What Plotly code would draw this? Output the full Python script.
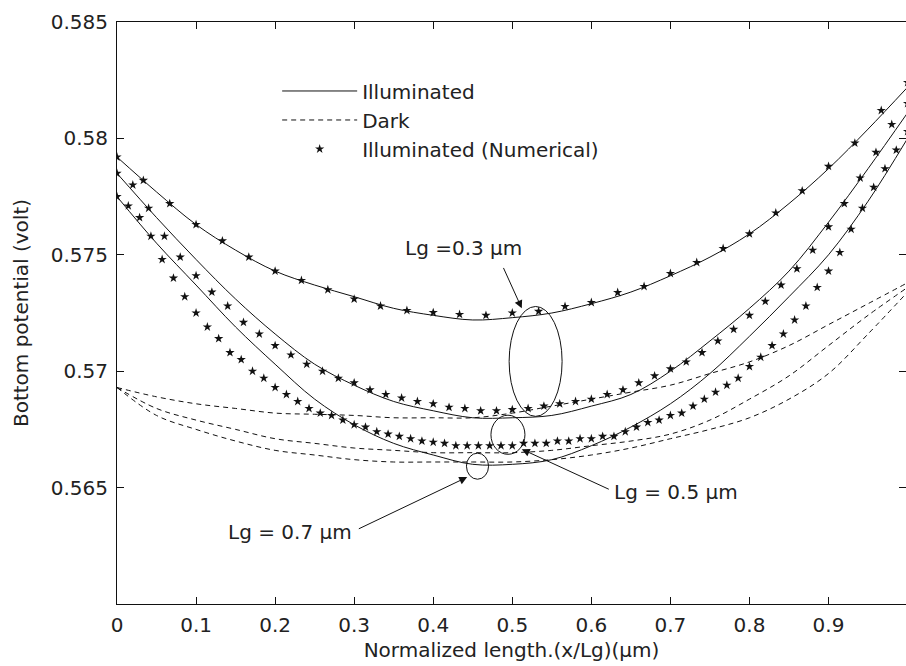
import plotly.graph_objects as go

# ---- sample positions along the gate (normalised x/Lg) ----
X_CURVE = [0.00, 0.05, 0.10, 0.15, 0.20, 0.25, 0.30, 0.35, 0.40, 0.45, 0.50,
           0.55, 0.60, 0.65, 0.70, 0.75, 0.80, 0.85, 0.90, 0.95, 1.00]

# analytical model, illuminated
ILLUM_03 = [0.5792, 0.5777, 0.5763, 0.5752, 0.5743, 0.5737, 0.5732, 0.5727, 0.5724, 0.5722, 0.5723,
            0.5725, 0.5729, 0.5734, 0.5741, 0.5749, 0.5759, 0.5772, 0.5787, 0.5804, 0.5822]
ILLUM_05 = [0.5785, 0.5766, 0.5748, 0.5731, 0.5716, 0.5703, 0.5694, 0.5687, 0.5683, 0.5680, 0.5680,
            0.5681, 0.5685, 0.5690, 0.5700, 0.5713, 0.5727, 0.5743, 0.5764, 0.5787, 0.5811]
ILLUM_07 = [0.5775, 0.5755, 0.5737, 0.5719, 0.5703, 0.5688, 0.5677, 0.5669, 0.5664, 0.5660, 0.5660,
            0.5662, 0.5668, 0.5676, 0.5686, 0.5699, 0.5715, 0.5732, 0.5750, 0.5773, 0.5800]

# analytical model, dark
DARK_03 = [0.5693, 0.5689, 0.5686, 0.5684, 0.5682, 0.56815, 0.5681, 0.5680, 0.5680, 0.5680, 0.5682,
           0.5685, 0.5688, 0.5691, 0.5694, 0.5699, 0.5704, 0.5711, 0.5720, 0.5729, 0.5738]
DARK_05 = [0.5693, 0.5684, 0.5679, 0.5675, 0.5671, 0.5669, 0.5667, 0.5666, 0.5665, 0.5665, 0.5665,
           0.5666, 0.5668, 0.5670, 0.5673, 0.5679, 0.5688, 0.5698, 0.5711, 0.5724, 0.5736]
DARK_07 = [0.5693, 0.5681, 0.5675, 0.5670, 0.5666, 0.5664, 0.5662, 0.5661, 0.5661, 0.5661, 0.5661,
           0.5662, 0.5664, 0.5667, 0.5671, 0.5675, 0.5680, 0.5688, 0.5699, 0.5716, 0.5734]

# numerical solution, illuminated
X_NUM_03 = [0.0, 0.0333, 0.0667, 0.1, 0.1333, 0.1667, 0.2, 0.2333, 0.2667, 0.3, 0.3333,
            0.3667, 0.4, 0.4333, 0.4667, 0.5, 0.5333, 0.5667, 0.6, 0.6333, 0.6667,
            0.7, 0.7333, 0.7667, 0.8, 0.8333, 0.8667, 0.9, 0.9333, 0.9667, 1.0]
NUM_03 = [0.5792, 0.5782, 0.5772, 0.5763, 0.5756, 0.5749, 0.5743, 0.5739, 0.5735, 0.5731, 0.5728,
          0.57261, 0.57252, 0.57244, 0.5724, 0.5725, 0.57257, 0.57278, 0.57295, 0.57338, 0.57364,
          0.5742, 0.57467, 0.57527, 0.5759, 0.5768, 0.57775, 0.5788, 0.5798, 0.5812, 0.5824]

X_NUM_05 = [0.00, 0.02, 0.04, 0.06, 0.08, 0.10, 0.12, 0.14, 0.16, 0.18, 0.20,
            0.22, 0.24, 0.26, 0.28, 0.30, 0.32, 0.34, 0.36, 0.38, 0.40,
            0.42, 0.44, 0.46, 0.48, 0.50, 0.52, 0.54, 0.56, 0.58, 0.60,
            0.62, 0.64, 0.66, 0.68, 0.70, 0.72, 0.74, 0.76, 0.78, 0.80,
            0.82, 0.84, 0.86, 0.88, 0.90, 0.92, 0.94, 0.96, 0.98, 1.00]
NUM_05 = [0.5785, 0.5780, 0.5770, 0.5758, 0.5749, 0.5741, 0.5734, 0.5728, 0.5721, 0.5716, 0.5711,
          0.5707, 0.5703, 0.5700, 0.5697, 0.5695, 0.5692, 0.5690, 0.56885, 0.5687, 0.5686,
          0.56845, 0.5684, 0.5683, 0.5683, 0.56835, 0.5684, 0.5685, 0.5686, 0.5687, 0.5688,
          0.5690, 0.5692, 0.5695, 0.5698, 0.5701, 0.5704, 0.5708, 0.5713, 0.5718, 0.5724,
          0.5730, 0.5737, 0.5744, 0.5752, 0.5762, 0.5772, 0.5783, 0.5794, 0.5806, 0.5815]

X_NUM_07 = [0.0, 0.0143, 0.0286, 0.0429, 0.0571, 0.0714, 0.0857, 0.1, 0.1143, 0.1286,
            0.1429, 0.1571, 0.1714, 0.1857, 0.2, 0.2143, 0.2286, 0.2429, 0.2571, 0.2714,
            0.2857, 0.3, 0.3143, 0.3286, 0.3429, 0.3571, 0.3714, 0.3857, 0.4, 0.4143,
            0.4286, 0.4429, 0.4571, 0.4714, 0.4857, 0.5, 0.5143, 0.5286, 0.5429, 0.5571,
            0.5714, 0.5857, 0.6, 0.6143, 0.6286, 0.6429, 0.6571, 0.6714, 0.6857, 0.7,
            0.7143, 0.7286, 0.7429, 0.7571, 0.7714, 0.7857, 0.8, 0.8143, 0.8286, 0.8429,
            0.8571, 0.8714, 0.8857, 0.9, 0.9143, 0.9286, 0.9429, 0.9571, 0.9714, 0.9857, 1.0]
NUM_07 = [0.5775, 0.5771, 0.5766, 0.5758, 0.5748, 0.5740, 0.5732, 0.5725, 0.5719, 0.5714,
          0.5708, 0.5705, 0.5700, 0.5697, 0.5693, 0.5690, 0.5687, 0.5684, 0.5682, 0.5681,
          0.5679, 0.5677, 0.5676, 0.5674, 0.5673, 0.5672, 0.5671, 0.5670, 0.56695, 0.5669,
          0.5668, 0.5668, 0.5668, 0.5668, 0.5668, 0.5668, 0.5669, 0.5669, 0.5669, 0.5670,
          0.5670, 0.5671, 0.5671, 0.5672, 0.5672, 0.5674, 0.5676, 0.5678, 0.5679, 0.5681,
          0.5682, 0.5685, 0.5688, 0.5691, 0.5694, 0.5697, 0.5702, 0.5706, 0.5711, 0.5716,
          0.5722, 0.5728, 0.5736, 0.5743, 0.5751, 0.5761, 0.5770, 0.5779, 0.5787, 0.5795, 0.5803]

Y_TICKS = [0.565, 0.57, 0.575, 0.58, 0.585]
Y_TICK_TEXT = ["0.565", "0.57", "0.575", "0.58", "0.585"]
X_TICKS = [0, 0.1, 0.2, 0.3, 0.4, 0.5, 0.6, 0.7, 0.8, 0.9, 1.0]
X_TICK_TEXT = ["0", "0.1", "0.2", "0.3", "0.4", "0.5", "0.6", "0.7", "0.8", "0.9", "1"]

FONT = "DejaVu Sans"
INK = "#111111"
TEXT_INK = "#222222"

fig = go.Figure()

solid = dict(color=INK, width=1, shape="spline", smoothing=1.0)
dashed = dict(color=INK, width=1, dash="5px,4px", shape="spline", smoothing=1.0)
stars = dict(symbol="star", size=7, color=INK, line=dict(width=0))

for i, ys in enumerate([ILLUM_03, ILLUM_05, ILLUM_07]):
    fig.add_trace(go.Scatter(x=X_CURVE, y=ys, mode="lines", line=solid,
                             name="Illuminated", legendgroup="ill",
                             showlegend=(i == 0), legendrank=1))
for i, ys in enumerate([DARK_03, DARK_05, DARK_07]):
    fig.add_trace(go.Scatter(x=X_CURVE, y=ys, mode="lines", line=dashed,
                             name="Dark", legendgroup="dark",
                             showlegend=(i == 0), legendrank=2))
for i, (xs, ys) in enumerate([(X_NUM_03, NUM_03), (X_NUM_05, NUM_05), (X_NUM_07, NUM_07)]):
    fig.add_trace(go.Scatter(x=xs, y=ys, mode="markers", marker=stars,
                             name="Illuminated (Numerical)", legendgroup="num",
                             showlegend=(i == 0), legendrank=3))

# ellipses grouping the curve minima
ring = dict(color=INK, width=1)
fig.add_shape(type="circle", xref="x", yref="y", x0=0.496, x1=0.563, y0=0.56806, y1=0.57278, line=ring)
fig.add_shape(type="circle", xref="x", yref="y", x0=0.473, x1=0.516, y0=0.56643, y1=0.56811, line=ring)
fig.add_shape(type="circle", xref="x", yref="y", x0=0.442, x1=0.470, y0=0.56536, y1=0.56648, line=ring)

# labels with arrows: (text, text x, text y, tail x, tail y, head x, head y)
label_font = dict(family=FONT, size=20, color=TEXT_INK)
labels = [
    ("Lg =0.3 μm", 0.438, 0.5753, 0.488, 0.5745, 0.512, 0.5727),
    ("Lg = 0.5 μm", 0.7065, 0.5648, 0.624, 0.5649, 0.512, 0.56665),
    ("Lg = 0.7 μm", 0.2185, 0.5631, 0.304, 0.5632, 0.443, 0.56545),
]
for text, tx, ty, ax, ay, hx, hy in labels:
    fig.add_annotation(x=tx, y=ty, xref="x", yref="y", text=text, showarrow=False,
                       font=label_font, xanchor="center", yanchor="middle")
    fig.add_annotation(x=hx, y=hy, ax=ax, ay=ay, xref="x", yref="y", axref="x", ayref="y",
                       text="", showarrow=True, arrowhead=2, arrowsize=1.6,
                       arrowwidth=1, arrowcolor=INK)

axis_common = dict(showline=True, linecolor=INK, linewidth=1, mirror="ticks",
                   ticks="inside", ticklen=7, tickwidth=1, tickcolor=INK,
                   showgrid=False, zeroline=False,
                   tickfont=dict(family=FONT, size=20, color=TEXT_INK))

fig.update_xaxes(range=[0, 0.998], tickvals=X_TICKS, ticktext=X_TICK_TEXT,
                 ticklabelstandoff=3,
                 title=dict(text="Normalized length.(x/Lg)(μm)", standoff=6,
                            font=dict(family=FONT, size=20, color=TEXT_INK)),
                 **axis_common)
fig.update_yaxes(range=[0.5600, 0.585], tickvals=Y_TICKS, ticktext=Y_TICK_TEXT,
                 ticklabelstandoff=4,
                 title=dict(text="Bottom potential (volt)", standoff=16,
                            font=dict(family=FONT, size=20, color=TEXT_INK)),
                 **axis_common)

fig.update_layout(
    width=906, height=666,
    margin=dict(l=117, r=0, t=22, b=62, autoexpand=False),
    paper_bgcolor="white", plot_bgcolor="white",
    font=dict(family=FONT, size=20, color=TEXT_INK),
    showlegend=True,
    legend=dict(x=0.203, y=0.915, xanchor="left", yanchor="top",
                bgcolor="rgba(0,0,0,0)", borderwidth=0,
                font=dict(family=FONT, size=20, color=TEXT_INK),
                itemwidth=75, tracegroupgap=0),
)

fig.write_html("out.html")
